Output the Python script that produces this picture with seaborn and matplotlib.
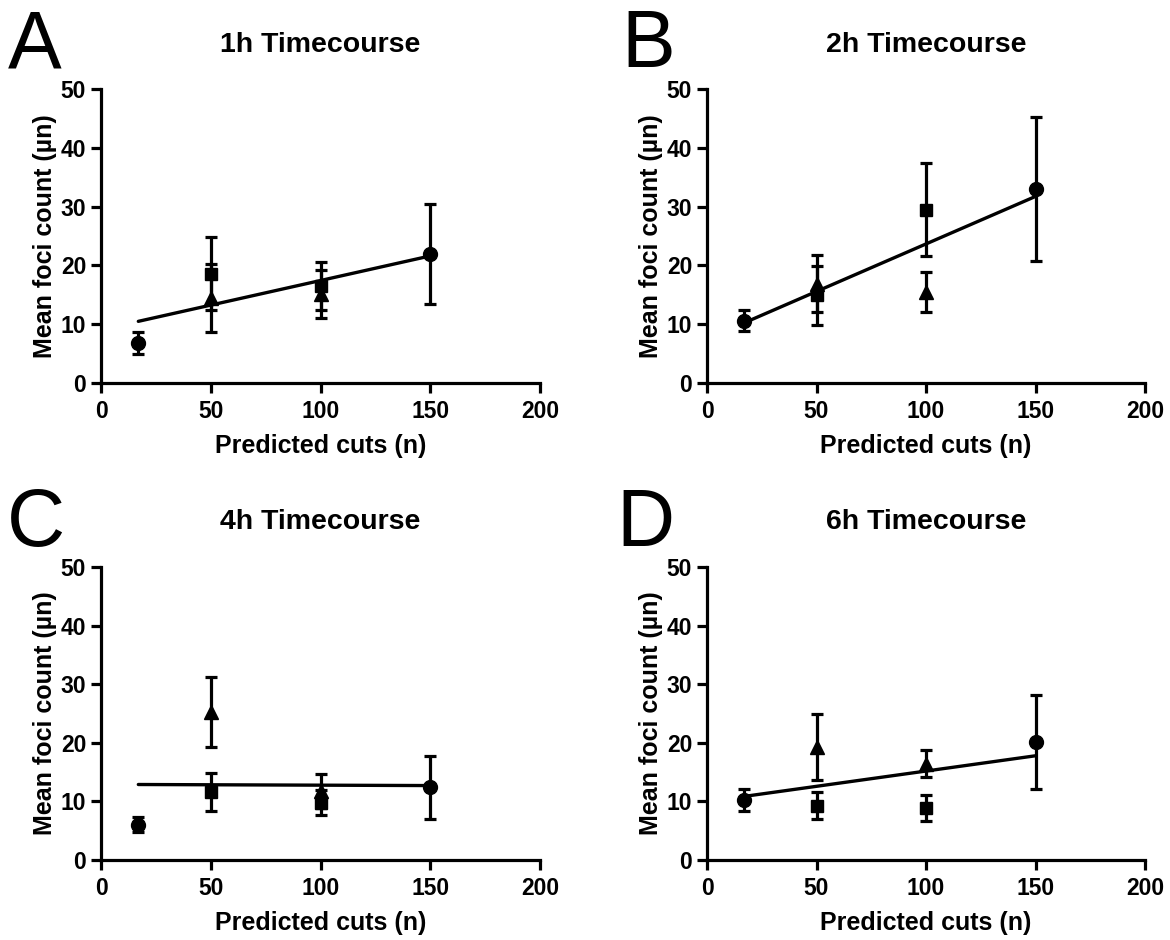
import numpy as np
import pandas as pd
import matplotlib
matplotlib.use("Agg")
import matplotlib.pyplot as plt
import seaborn as sns

sns.set_theme(style="ticks")
plt.rcParams['font.family'] = ['Liberation Sans', 'DejaVu Sans']
plt.rcParams.update({"text.color": "black", "axes.labelcolor": "black",
                     "xtick.color": "black", "ytick.color": "black"})

# ---- data ----
panels = ["A", "B", "C", "D"]
titles = ["1h Timecourse", "2h Timecourse", "4h Timecourse", "6h Timecourse"]

circle_x = [17, 150]
square_x = [50, 100]
triangle_x = [50, 100]

circle_mean = [[6.8, 22.0], [10.6, 33.0], [6.0, 12.4], [10.2, 20.1]]
circle_err = [[1.8, 8.5], [1.8, 12.2], [1.3, 5.4], [1.9, 8.0]]
square_mean = [[18.6, 16.45], [14.9, 29.5], [11.6, 9.8], [9.25, 8.9]]
square_err = [[6.2, 4.05], [5.0, 7.9], [3.3, 2.1], [2.3, 2.2]]
triangle_mean = [[14.4, 15.2], [16.9, 15.5], [25.2, 11.8], [19.3, 16.4]]
triangle_err = [[5.8, 4.1], [4.8, 3.4], [6.0, 2.9], [5.7, 2.3]]

x_ticks = [0, 50, 100, 150, 200]
y_ticks = [0, 10, 20, 30, 40, 50]

W, H = 1170, 940
fig = plt.figure(figsize=(W / 100, H / 100), dpi=100)

# axes positions in pixels: (left, top, right, bottom)
boxes = [(101, 89, 540, 383), (707, 89, 1145, 383),
         (101, 567, 540, 860), (707, 567, 1145, 860)]
letter_pos = [(8, 67), (621, 67), (7, 546), (616, 546)]
title_base = [52, 52, 529, 529]

lw = 2.3
for i in range(4):
    l, t, r, b = boxes[i]
    ax = fig.add_axes([l / W, 1 - b / H, (r - l) / W, (b - t) / H])
    ax.set_facecolor("white")

    df = pd.DataFrame({
        "cuts": circle_x + square_x + triangle_x,
        "foci": circle_mean[i] + square_mean[i] + triangle_mean[i],
    })
    sns.regplot(data=df, x="cuts", y="foci", ax=ax, scatter=False, ci=None,
                truncate=True, line_kws=dict(color="black", lw=2.4, zorder=2))

    for xs, ms, es, mk, sz in [(circle_x, circle_mean[i], circle_err[i], "o", 10),
                               (square_x, square_mean[i], square_err[i], "s", 8.5),
                               (triangle_x, triangle_mean[i], triangle_err[i], "^", 9.5)]:
        ax.errorbar(xs, ms, yerr=es, fmt=mk, color="black", ms=sz, elinewidth=lw,
                    capsize=4.5, capthick=lw, zorder=3, clip_on=False)

    ax.set_xlim(0, 200)
    ax.set_ylim(0, 50)
    ax.set_xticks(x_ticks)
    ax.set_yticks(y_ticks)
    sns.despine(ax=ax)
    for s in ["left", "bottom"]:
        ax.spines[s].set_linewidth(lw)
        ax.spines[s].set_color("black")
    ax.tick_params(axis="both", direction="out", length=7.2, width=lw, color="black",
                   labelsize=16.5)
    ax.tick_params(axis="x", pad=5)
    ax.tick_params(axis="y", pad=3.5)
    for lab in ax.get_xticklabels() + ax.get_yticklabels():
        lab.set_fontweight("bold")
    ax.set_xlabel("Predicted cuts (n)", fontsize=18, fontweight="bold")
    ax.set_ylabel("Mean foci count (µn)", fontsize=18, fontweight="bold")
    ax.xaxis.set_label_coords(0.5, -(51 / (b - t)))
    ax.yaxis.set_label_coords(-(44 / (r - l)), 0.5)

    fig.text((l + r) / 2 / W, 1 - title_base[i] / H, titles[i], ha="center",
             va="baseline", fontsize=20.5, fontweight="bold")
    lx, ly = letter_pos[i]
    fig.text(lx / W, 1 - ly / H, panels[i], ha="left", va="baseline", fontsize=58)

fig.savefig("out.png", dpi=100, facecolor="white")
